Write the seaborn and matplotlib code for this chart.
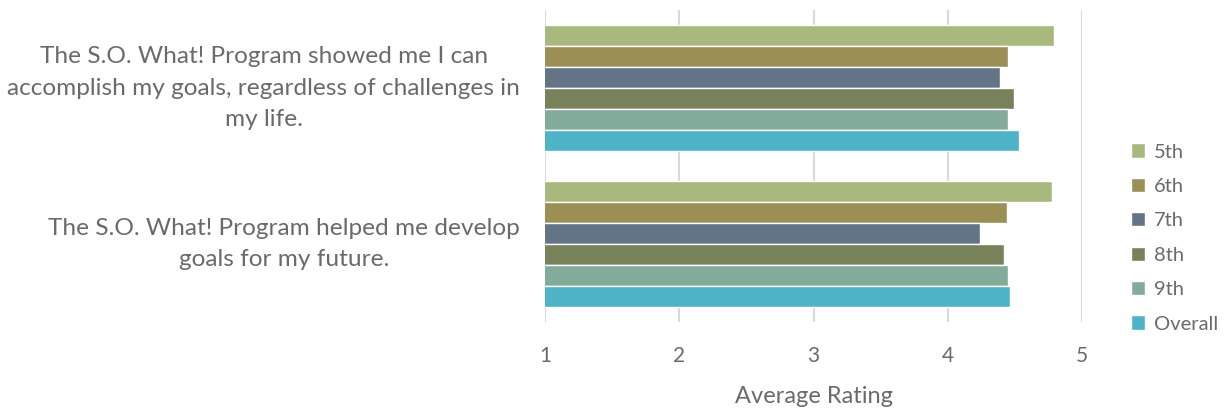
import matplotlib
matplotlib.use("Agg")
import matplotlib.pyplot as plt
import seaborn as sns
import pandas as pd

questions = [
    "The S.O. What! Program showed me I can\naccomplish my goals, regardless of challenges in\nmy life.",
    "The S.O. What! Program helped me develop\ngoals for my future.",
]
series = ["5th", "6th", "7th", "8th", "9th", "Overall"]
vals_q1 = [4.79, 4.45, 4.39, 4.49, 4.45, 4.53]
vals_q2 = [4.78, 4.44, 4.24, 4.42, 4.45, 4.46]
colors = ["#A9B97E", "#9B8F55", "#637487", "#77825A", "#82AB9A", "#4EB3C7"]

rows = []
for q, vals in zip(questions, [vals_q1, vals_q2]):
    for s, v in zip(series, vals):
        rows.append({"question": q, "grade": s, "rating": v})
df = pd.DataFrame(rows)

sns.set_theme(style="white")
plt.rcParams['font.family'] = ['Lato', 'DejaVu Sans']

txt = "#6a6a6a"
fig = plt.figure(figsize=(12.26, 4.11), dpi=100)
ax = fig.add_axes([545/1226, 1-322/411, (1082-545)/1226, (322-10)/411])

sns.barplot(data=df, y="question", x="rating", hue="grade", order=questions,
            hue_order=series, palette=colors, orient="h", width=0.81,
            saturation=1, ax=ax, legend=True, errorbar=None)
ax.set_xlim(1, 5)
ax.set_ylim(1.5, -0.5)
ax.set_xticks([1, 2, 3, 4, 5])
ax.xaxis.grid(True, color="#D9D9D9", linewidth=1.5)
ax.set_axisbelow(True)
for s in ax.spines.values():
    s.set_visible(False)
ax.tick_params(axis="x", length=0, pad=17, labelsize=15, labelcolor=txt)
ax.tick_params(axis="y", length=0, pad=18, labelsize=17.6, labelcolor=txt)
for t in ax.get_yticklabels():
    t.set_multialignment("center")
    t.set_linespacing(1.62)
    t.set_verticalalignment("center")
ax.set_ylabel("")
ax.set_xlabel("Average Rating", fontsize=17, color=txt, labelpad=15)

handles, labels = ax.get_legend_handles_labels()
ax.get_legend().remove()
leg = fig.legend(handles, labels, loc="center left", bbox_to_anchor=(1113/1226, 1-238/411),
                 frameon=False, fontsize=14.5, labelcolor=txt, labelspacing=0.86,
                 handlelength=0.7, handleheight=0.7, handletextpad=0.45)

fig.savefig("out.png", dpi=100)
